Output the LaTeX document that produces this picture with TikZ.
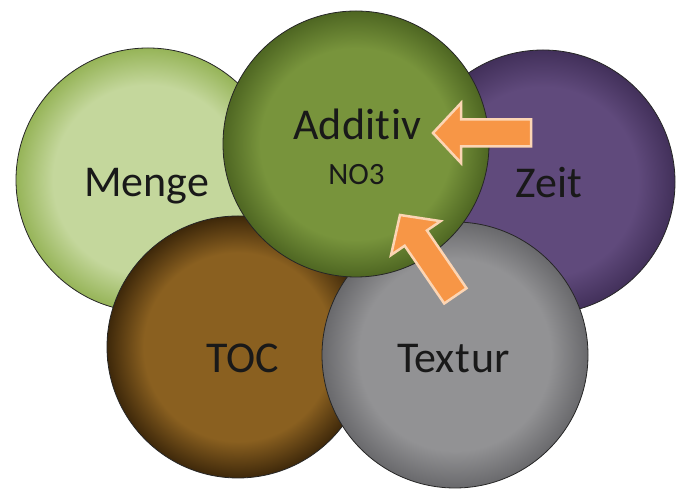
\documentclass[tikz,border=0pt]{standalone}
\usepackage{fontspec}
\setmainfont{Carlito}[Ligatures={NoCommon}]
\definecolor{mengeC}{RGB}{196,215,156}
\definecolor{mengeR}{RGB}{150,180,88}
\definecolor{addC}{RGB}{120,148,60}
\definecolor{addR}{RGB}{78,102,34}
\definecolor{zeitC}{RGB}{96,74,124}
\definecolor{zeitR}{RGB}{66,48,90}
\definecolor{tocC}{RGB}{138,96,32}
\definecolor{tocR}{RGB}{62,40,10}
\definecolor{texC}{RGB}{146,146,148}
\definecolor{texR}{RGB}{105,105,108}
\definecolor{arrFill}{RGB}{247,150,70}
\definecolor{arrEdge}{RGB}{252,213,180}
\newcommand\mkshade[3]{\pgfdeclareradialshading{#1}{\pgfpoint{0bp}{0bp}}{color(0bp)=(#2); color(18bp)=(#2); color(25bp)=(#3); color(50bp)=(#3)}}
\mkshade{mengeS}{mengeC}{mengeR}
\mkshade{addS}{addC}{addR}
\mkshade{zeitS}{zeitC}{zeitR}
\mkshade{tocS}{tocC}{tocR}
\mkshade{texS}{texC}{texR}
\tikzset{
  ball/.style={circle, draw=black!85, line width=0.8pt, inner sep=0pt},
  lbl/.style={anchor=base, text=black!90, inner sep=0pt, font=\fontsize{44}{50}\selectfont},
  small/.style={anchor=base, text=black!90, inner sep=0pt, font=\fontsize{31}{36}\selectfont},
  arrowpaint/.style={fill=arrFill, draw=arrEdge, line width=2.5pt, line join=miter},
  pics/blockarr/.style={code={
    \draw[arrowpaint] (0,0) -- (-28,30) -- (-28,13.5) -- (-98,13.5) -- (-98,-13.5) -- (-28,-13.5) -- (-28,-30) -- cycle;
    \coordinate (-tip) at (0,0);
    \coordinate (-tail) at (-98,0);
  }}
}
\begin{document}
\begin{tikzpicture}[x=1pt,y=1pt]
\fill[white] (0,0) rectangle (681,492);
\useasboundingbox (0,0) rectangle (681,492);
% circles
\node[ball, minimum size=264pt, shading=mengeS] (menge) at (148,312) {};
\node[ball, minimum size=264pt, shading=zeitS] (zeit) at (543,310) {};
\node[ball, minimum size=262pt, shading=tocS] (toc) at (238,145) {};
\node[ball, minimum size=266pt, shading=texS] (textur) at (455,137) {};
\node[ball, minimum size=266pt, shading=addS] (additiv) at (356,348) {};
% labels
\node[lbl] (tmenge) at (146.5,295) {Menge};
\node[lbl] (tadd) at (357.5,352) {Addit\kern1.5pt iv};
\node[small] (tno) at (356.5,307) {NO3};
\node[lbl] (tzeit) at (548.5,294) {Zeit};
\node[lbl] (ttoc) at (242.5,119) {TOC};
\node[lbl] (ttex) at (453.5,119) {Text\kern1.5pt ur};
% arrows
\pic[rotate=180] (arrA) at (433,359) {blockarr};
\pic[rotate=124.4] (arrB) at (400,277) {blockarr};
\end{tikzpicture}
\end{document}
